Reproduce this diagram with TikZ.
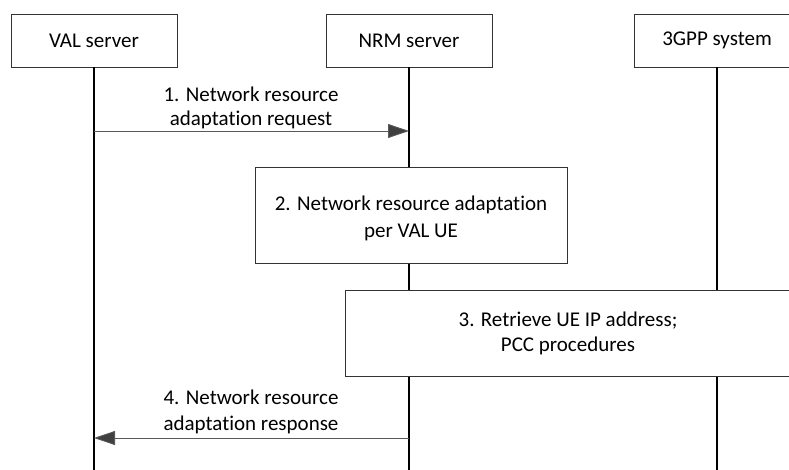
\documentclass[tikz,border=0pt]{standalone}
\usepackage{fontspec}
\setmainfont{Carlito}[Ligatures=NoCommon]
\usetikzlibrary{arrows.meta}
\begin{document}
\begin{tikzpicture}[x=1pt,y=-1pt,
  actor/.style={draw=black!80, line width=0.8pt, fill=white, minimum width=166pt, minimum height=53pt, inner sep=0pt, font=\fontsize{21}{24}\selectfont},
  procbox/.style={draw=black!80, line width=0.8pt, fill=white, inner sep=0pt},
  life/.style={line width=1.3pt, black},
  msg/.style={line width=0.8pt, draw=black!65, -{Triangle[length=21pt,width=14pt,fill=black!75]}},
  lbl/.style={align=center, inner sep=0pt, anchor=south},
  boxtext/.style={align=center, inner sep=0pt}]
\useasboundingbox (0,0) rectangle (789,470);
\node[actor] (val) at (94,40.5) {\raisebox{-2pt}{VAL server}};
\node[actor] (nrm) at (409,40.5) {\raisebox{-2pt}{NRM server}};
\node[actor] (gpp) at (717,40.5) {\raisebox{-2pt}{3GPP system}};
\coordinate (valb) at (94,470);
\coordinate (nrmb) at (409,470);
\coordinate (gppb) at (717,470);
\draw[life] (val.south) -- (valb);
\draw[life] (nrm.south) -- (nrmb);
\draw[life] (gpp.south) -- (gppb);
% step 1
\coordinate (a1s) at (94,131);
\coordinate (a1e) at (409,131);
\draw[msg] (a1s) -- (a1e);
\node[lbl, font=\fontsize{21}{24}\selectfont] (l1) at (251,129) {1. Network resource\\adaptation request};
% step 2
\node[procbox, minimum width=312pt, minimum height=96pt] (s2) at (411,215) {};
\node[boxtext, font=\fontsize{21}{27}\selectfont] (t2) at ([yshift=-3pt]s2.center) {2. Network resource adaptation\\per VAL UE};
% step 3
\node[procbox, minimum width=446pt, minimum height=86pt] (s3) at (568,333) {};
\node[boxtext, font=\fontsize{21}{25}\selectfont] (t3) at (s3.center) {3. Retrieve UE IP address;\\PCC procedures};
% step 4
\coordinate (a4s) at (409,438);
\coordinate (a4e) at (94,438);
\draw[msg] (a4s) -- (a4e);
\node[lbl, font=\fontsize{21}{26}\selectfont] (l4) at (251,434) {4. Network resource\\adaptation response};
\end{tikzpicture}
\end{document}
